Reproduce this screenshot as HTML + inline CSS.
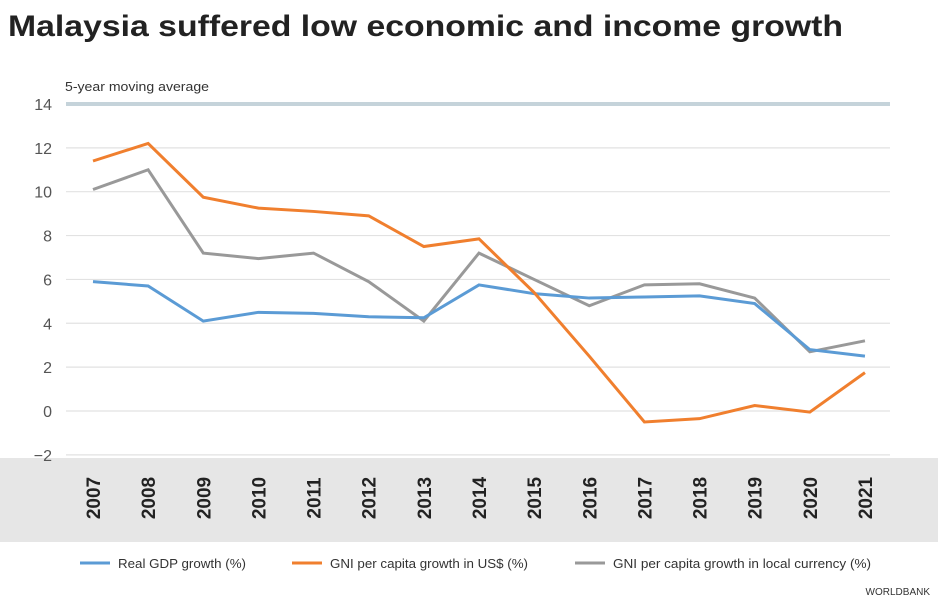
<!DOCTYPE html>
<html><head><meta charset="utf-8">
<style>
body{margin:0;background:#fff;width:938px;height:604px;overflow:hidden;font-family:"Liberation Sans",sans-serif;}
</style></head><body>
<svg width="938" height="604" xmlns="http://www.w3.org/2000/svg">
<text x="8" y="36" font-size="30" font-weight="bold" fill="#222" textLength="835" lengthAdjust="spacingAndGlyphs">Malaysia suffered low economic and income growth</text>
<text x="65" y="91" font-size="13" fill="#333" textLength="144" lengthAdjust="spacingAndGlyphs">5-year moving average</text>
<rect x="0" y="458" width="938" height="84" fill="#e6e6e6"/>
<g id="grid"></g><g id="xl"></g><g id="lines"></g>
<g>
<line x1="80" y1="563" x2="110" y2="563" stroke="#5b9bd5" stroke-width="3"/>
<text x="118" y="568" font-size="13" fill="#333" textLength="128" lengthAdjust="spacingAndGlyphs">Real GDP growth (%)</text>
<line x1="292" y1="563" x2="322" y2="563" stroke="#f07f2e" stroke-width="3"/>
<text x="330" y="568" font-size="13" fill="#333" textLength="198" lengthAdjust="spacingAndGlyphs">GNI per capita growth in US$ (%)</text>
<line x1="575" y1="563" x2="605" y2="563" stroke="#999" stroke-width="3"/>
<text x="613" y="568" font-size="13" fill="#333" textLength="258" lengthAdjust="spacingAndGlyphs">GNI per capita growth in local currency (%)</text>
</g>
<text x="930" y="595" font-size="10" fill="#333" text-anchor="end">WORLDBANK</text>
</svg>
<script>
const years=[2007,2008,2009,2010,2011,2012,2013,2014,2015,2016,2017,2018,2019,2020,2021];
const gdp=[5.9,5.7,4.1,4.5,4.45,4.3,4.25,5.75,5.35,5.15,5.2,5.25,4.9,2.8,2.5];
const gniUsd=[11.4,12.2,9.75,9.25,9.1,8.9,7.5,7.85,5.4,2.5,-0.5,-0.35,0.25,-0.05,1.75];
const gniLocal=[10.1,11.0,7.2,6.95,7.2,5.9,4.1,7.2,6.0,4.8,5.75,5.8,5.15,2.7,3.2];
const yTicks=[-2,0,2,4,6,8,10,12,14];
const NS="http://www.w3.org/2000/svg";
const xs=i=>93+i*55.14;
const ys=v=>411-v*21.93;
function mk(t,a,p){const e=document.createElementNS(NS,t);for(const k in a)e.setAttribute(k,a[k]);document.getElementById(p).appendChild(e);return e;}
yTicks.forEach(v=>{
 const l=mk('line',{x1:66,x2:890,y1:ys(v),y2:ys(v),stroke:v===14?'#c5d3da':'#e2e2e2','stroke-width':v===14?4:1.2},'grid');
 
 
 const t=mk('text',{x:52,y:ys(v)+6,'font-size':16,fill:'#555','text-anchor':'end'},'grid');
 t.textContent=v<0?'\u2212'+(-v):v;
 
 
});
years.forEach((y,i)=>{
 const t=mk('text',{x:0,y:0,'font-size':19,'font-weight':'bold',fill:'#222','text-anchor':'middle',transform:`translate(${xs(i)+7},498) rotate(-90)`},'xl');
 t.textContent=y;
 
 
});
[[gniLocal,'#999','gni-local-line'],[gdp,'#5b9bd5','gdp-line'],[gniUsd,'#f07f2e','gni-usd-line']].forEach(([d,c,n])=>{
 const p=mk('polyline',{points:d.map((v,i)=>xs(i)+','+ys(v)).join(' '),fill:'none',stroke:c,'stroke-width':3,'stroke-linejoin':'miter'},'lines');
 
 
});
</script>
</body></html>
